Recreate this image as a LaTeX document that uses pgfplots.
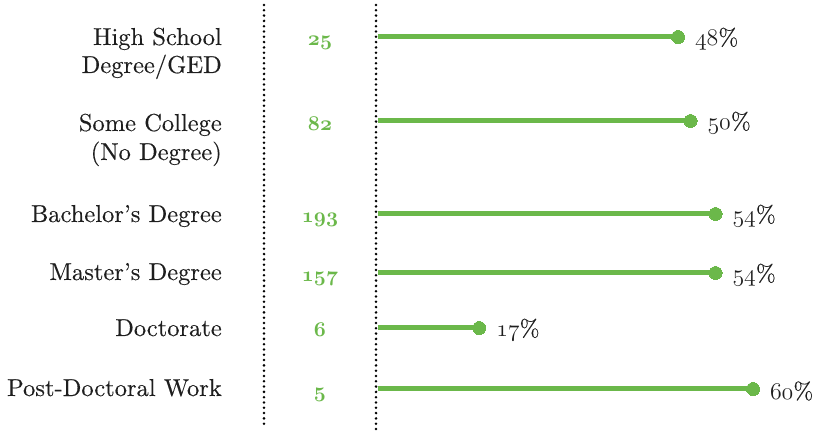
\documentclass[border=0pt]{standalone}
\usepackage{fix-cm}
\usepackage{fontspec}
\setmainfont{lmroman10-regular.otf}[FakeBold=0.25]
\usepackage{pgfplots}
\pgfplotsset{compat=1.18}
\definecolor{lgreen}{RGB}{107,184,74}
\definecolor{txt}{RGB}{30,30,30}
\newcommand{\osn}[1]{{\usefont{OML}{cmm}{m}{it}#1}}
\newcommand{\osb}[1]{{\usefont{OML}{cmm}{b}{it}#1}}
\pgfplotstableread{
x y lab
48 37 48
50 121 50
54 214 54
54 273 54
16.2 328 17
60 389 60
}\datatbl
\begin{document}
\begin{tikzpicture}
\begin{axis}[
  width=825bp, height=431bp, scale only axis,
  xmin=-60.48, xmax=71.52, ymin=0, ymax=431, y dir=reverse,
  hide axis, clip=false,
]
\path (axis cs:-60.48,0) rectangle (axis cs:71.52,431);
% dotted separators
\draw[black, line width=2.8bp, line cap=round, dash pattern=on 0bp off 5.3bp] (axis cs:-18.24,5) -- (axis cs:-18.24,425);
\draw[black, line width=2.8bp, line cap=round, dash pattern=on 0bp off 5.3bp] (axis cs:-0.32,5) -- (axis cs:-0.32,430);
% lollipops
\addplot[xcomb, draw=lgreen, line width=5bp, mark=*, mark size=6.5bp,
  mark options={fill=lgreen, draw=lgreen, line width=0pt},
  point meta=explicit symbolic,
  nodes near coords={\osn{\pgfplotspointmeta}\%},
  every node near coord/.append style={anchor=west, xshift=17bp, yshift=-2bp, text=txt,
     font=\rmfamily\fontsize{24}{28}\selectfont, inner sep=0pt}]
  table[x=x, y=y, meta=lab] {\datatbl};
% category labels
\begin{scope}[every node/.style={anchor=base east, inner sep=0pt, text=txt, font=\rmfamily\fontsize{24.6}{29}\selectfont}]
\node at (axis cs:-24.96,45) {High School};
\node at (axis cs:-24.96,73) {Degree/GED};
\node at (axis cs:-24.96,131) {Some College};
\node at (axis cs:-24.96,160) {(No Degree)};
\node at (axis cs:-24.96,222) {Bachelor’s Degree};
\node at (axis cs:-24.96,280) {Master’s Degree};
\node at (axis cs:-24.96,336) {Doctorate};
\node at (axis cs:-24.96,396) {Post-Doctoral Work};
\end{scope}
% counts
\begin{scope}[every node/.style={anchor=base, inner sep=0pt, text=lgreen, font=\fontsize{21}{25}\selectfont}]
\node at (axis cs:-9.28,46) {\osb{25}};
\node at (axis cs:-9.28,131) {\osb{82}};
\node at (axis cs:-9.28,223) {\osb{193}};
\node at (axis cs:-9.28,282) {\osb{157}};
\node at (axis cs:-9.28,337) {\osb{6}};
\node at (axis cs:-9.28,397) {\osb{5}};
\end{scope}
\end{axis}
\end{tikzpicture}
\end{document}
